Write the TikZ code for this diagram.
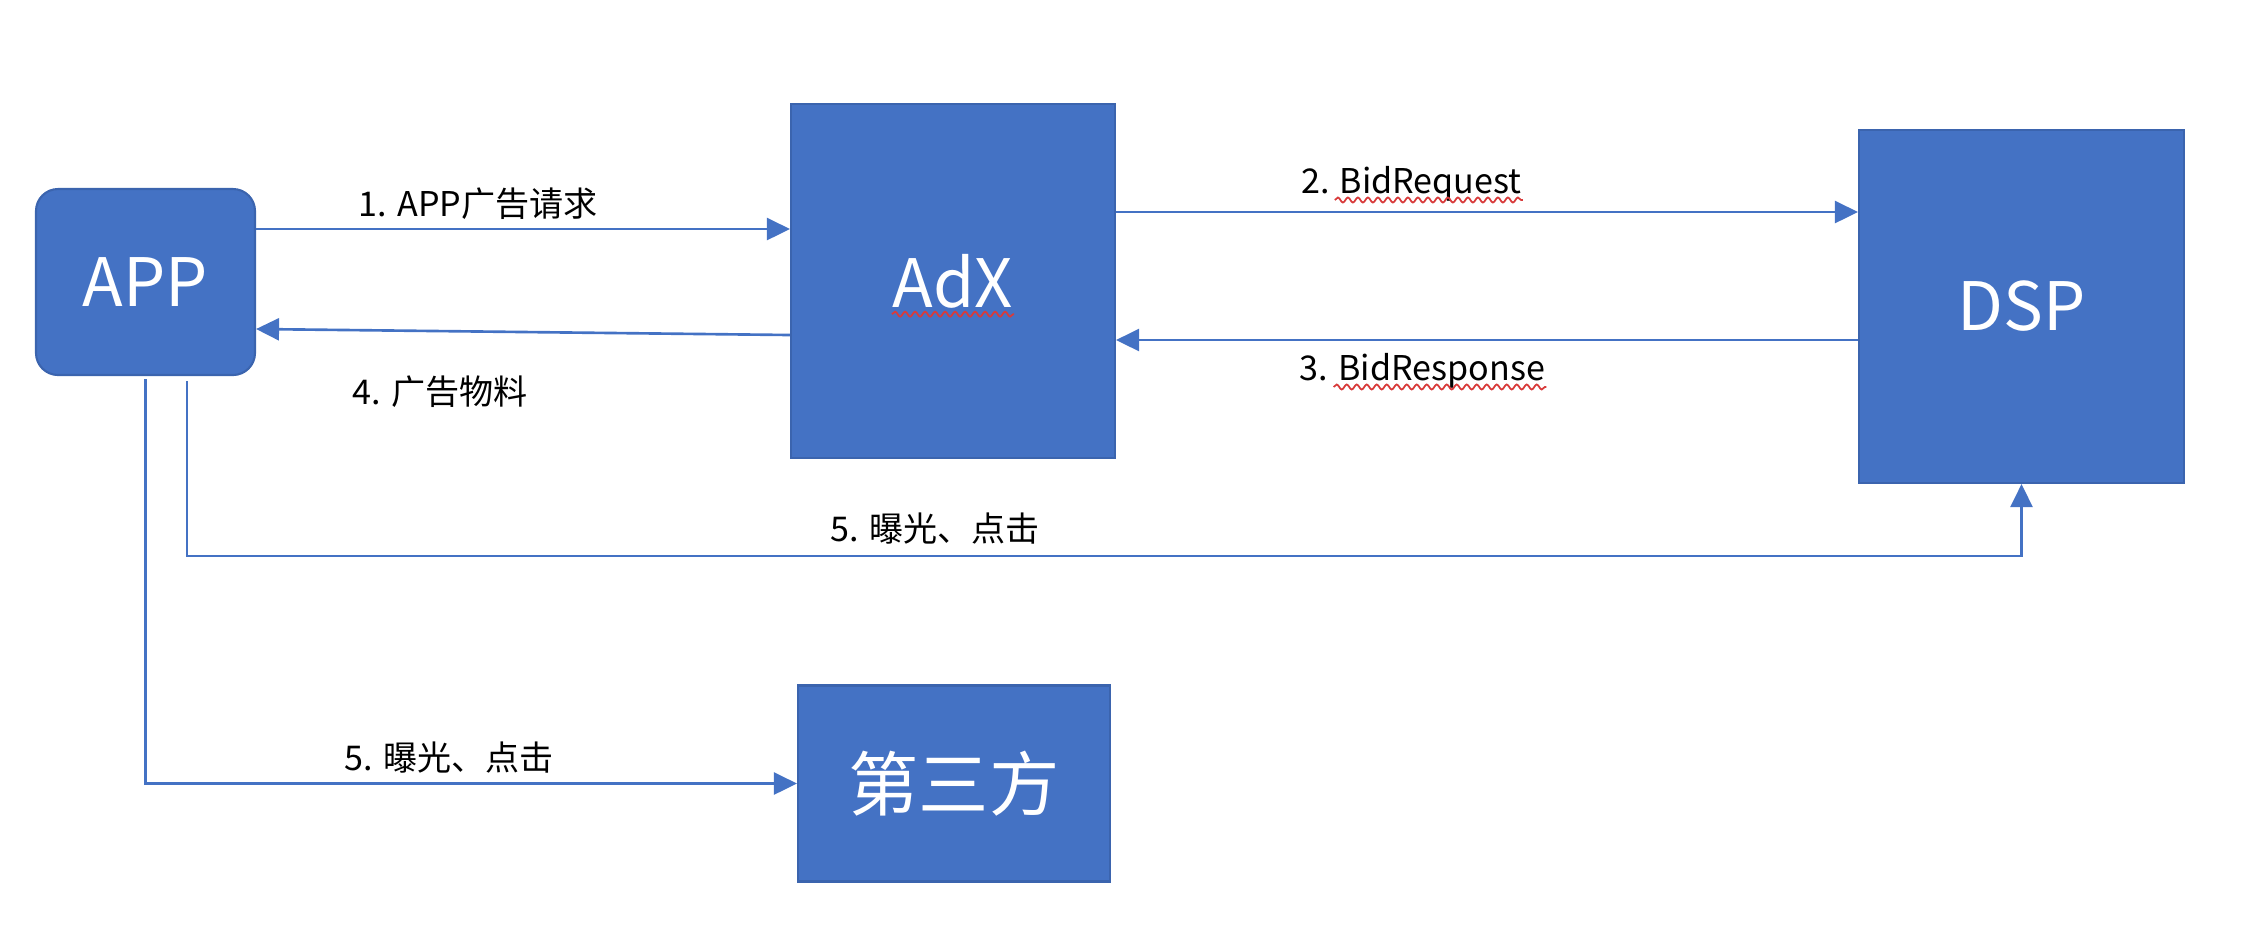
\documentclass[tikz,border=0pt]{standalone}
\usepackage{fontspec}
\newfontfamily\cjk{Noto Sans CJK SC}
\usetikzlibrary{arrows.meta,decorations.pathmorphing}
\definecolor{boxblue}{HTML}{4472C4}
\definecolor{boxedge}{HTML}{3B64AE}
\definecolor{spellred}{HTML}{D83B3B}

\begin{document}
\begin{tikzpicture}[
  box/.style={rectangle, fill=boxblue, draw=boxedge, line width=0.6pt, text=white, font=\cjk\fontsize{19}{21}\selectfont, inner sep=0pt},
  flow/.style={draw=boxblue, line width=0.75pt, -{Triangle[length=2.3mm,width=2.2mm]}},
  lbl/.style={font=\cjk\fontsize{9.7}{12}\selectfont, inner sep=0pt, anchor=base},
  squig/.style={draw=spellred, line width=0.5pt, decorate, decoration={snake, amplitude=0.25mm, segment length=1mm}}]
 \useasboundingbox (0,0) rectangle (22.42,-9.34);
 % boxes
 \node[box, rounded corners=2.2mm, minimum width=2.19cm, minimum height=1.86cm] (app) at (1.455,-2.82) {APP};
 \node[box, minimum width=3.24cm, minimum height=3.54cm] (adx) at (9.53,-2.81) {AdX};
 \node[box, minimum width=3.25cm, minimum height=3.53cm] (dsp) at (20.215,-3.065) {DSP};
 \node[box, minimum width=3.12cm, minimum height=1.96cm, font=\cjk\fontsize{20}{22}\selectfont] (third) at (9.54,-7.835) {第三方};

 % request / response
 \draw[flow] ([yshift=5.3mm]app.east) -- node[lbl, pos=.416, yshift=1.3mm] (l1) {1. APP广告请求} ([yshift=5.3mm]app.east -| adx.west);
 \draw[flow] ([yshift=-5.4mm]adx.west) -- node[lbl, pos=.655, yshift=-7.3mm] (l4) {4. 广告物料} ([yshift=-4.7mm]app.east);
 \draw[flow] ([yshift=9.45mm]dsp.west -| adx.east) -- node[lbl, pos=.398, yshift=1.9mm] (l2) {2. BidRequest} ([yshift=9.45mm]dsp.west);
 \draw[flow] ([yshift=-3.35mm]dsp.west) -- node[lbl, pos=.587, yshift=-4mm] (l3) {3. BidResponse} ([yshift=-3.35mm]dsp.west -| adx.east);

 % tracking
 \draw[flow] ([xshift=4.15mm,yshift=-0.5mm]app.south) -- ++(0,-1.75) -| node[lbl, pos=.204, yshift=1.5mm] (l5a) {5. 曝光、点击} (dsp.south);
 \draw[flow] ([yshift=-0.3mm]app.south) |- node[lbl, pos=.733, yshift=1.3mm] (l5b) {5. 曝光、点击} (third.west);

 % spell check marks
 \draw[squig] ([xshift=3.5mm,yshift=-0.7mm]l2.base west) -- ([yshift=-0.7mm]l2.base east);
 \draw[squig] ([xshift=3.5mm,yshift=-0.7mm]l3.base west) -- ([yshift=-0.7mm]l3.base east);
 \draw[squig] ([xshift=-6.1mm,yshift=-0.7mm]adx.base) -- ([xshift=6.1mm,yshift=-0.7mm]adx.base);
\end{tikzpicture}
\end{document}
